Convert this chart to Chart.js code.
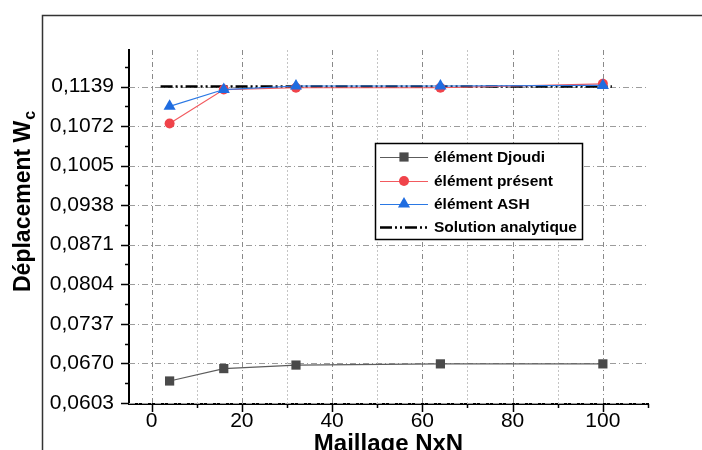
<!DOCTYPE html>
<html>
<head>
<meta charset="utf-8">
<script src="https://cdn.jsdelivr.net/npm/chart.js@4.4.0/dist/chart.umd.min.js"></script>
<style>
  html, body { margin: 0; padding: 0; background: #fff; }
  #wrap { width: 702px; height: 450px; position: relative; overflow: hidden; }
</style>
</head>
<body>
<div id="wrap"><canvas id="canvas-1" width="702" height="450"></canvas></div>
<script>
// mesh sizes NxN
var meshX = [4, 16, 32, 64, 100];
var djoudiW = [0.0640, 0.0661, 0.0667, 0.0669, 0.0669];
var presentW = [0.10765, 0.1134, 0.1137, 0.1137, 0.11436];
var ashW = [0.11055, 0.1134, 0.1140, 0.1140, 0.1141];
var analyticX = [2, 102];
var analyticW = [0.1139, 0.1139];

var seriesNames = ['élément Djoudi', 'élément présent', 'élément ASH', 'Solution analytique'];
var xTicks = [0, 20, 40, 60, 80, 100];
var xMinorTicks = [10, 30, 50, 70, 90, 110];
var yTicks = [0.0603, 0.0670, 0.0737, 0.0804, 0.0871, 0.0938, 0.1005, 0.1072, 0.1139];
var yMinorTicks = [0.06365, 0.07035, 0.07705, 0.08375, 0.09045, 0.09715, 0.10385, 0.11055, 0.11725];

var FONT = '"Liberation Sans", Arial, sans-serif';

function pts(xs, ys) {
  return xs.map(function (x, i) { return { x: x, y: ys[i] }; });
}

function marker(ctx, style, x, y, r, fill) {
  ctx.save();
  ctx.fillStyle = fill;
  ctx.beginPath();
  if (style === 'rect') {
    var s = Math.SQRT1_2 * r;
    ctx.rect(x - s, y - s, 2 * s, 2 * s);
  } else if (style === 'triangle') {
    var a = 0;
    ctx.moveTo(x + Math.sin(a) * r, y - Math.cos(a) * r);
    a += 2 * Math.PI / 3;
    ctx.lineTo(x + Math.sin(a) * r, y - Math.cos(a) * r);
    a += 2 * Math.PI / 3;
    ctx.lineTo(x + Math.sin(a) * r, y - Math.cos(a) * r);
    ctx.closePath();
  } else {
    ctx.arc(x, y, r, 0, Math.PI * 2);
  }
  ctx.fill();
  ctx.restore();
}

var decor = {
  id: 'decor',
  beforeDraw: function (chart) {
    var ctx = chart.ctx;
    ctx.save();
    ctx.strokeStyle = '#333';
    ctx.lineWidth = 1.5;
    ctx.strokeRect(42.5, 15.5, 900, 900);
    ctx.restore();
  },
  beforeDatasetsDraw: function (chart) {
    var ctx = chart.ctx, a = chart.chartArea;
    var xs = chart.scales.x, ys = chart.scales.y;
    ctx.save();
    ctx.lineWidth = 1;
    // horizontal grid
    ctx.strokeStyle = '#9c9c9c';
    ctx.setLineDash([6, 3, 1, 3]);
    yTicks.forEach(function (v) {
      var py = Math.round(ys.getPixelForValue(v)) + 0.5;
      ctx.beginPath(); ctx.moveTo(a.left, py); ctx.lineTo(a.right, py); ctx.stroke();
    });
    // vertical grid
    ctx.strokeStyle = '#8a8a8a';
    ctx.setLineDash([5, 3, 1, 3]);
    xTicks.forEach(function (v) {
      var px = Math.round(xs.getPixelForValue(v)) + 0.5;
      ctx.beginPath(); ctx.moveTo(px, a.top); ctx.lineTo(px, a.bottom); ctx.stroke();
    });
    ctx.strokeStyle = '#c4c4c4';
    ctx.setLineDash([2, 2]);
    xMinorTicks.forEach(function (v) {
      if (v > 100) return;
      var px = Math.round(xs.getPixelForValue(v)) + 0.5;
      ctx.beginPath(); ctx.moveTo(px, a.top); ctx.lineTo(px, a.bottom); ctx.stroke();
    });
    ctx.restore();
  },
  afterDraw: function (chart) {
    var ctx = chart.ctx, a = chart.chartArea;
    var xs = chart.scales.x, ys = chart.scales.y;
    ctx.save();
    // tick marks
    ctx.strokeStyle = '#000';
    ctx.lineWidth = 1.5;
    ctx.setLineDash([]);
    yTicks.forEach(function (v) {
      var py = Math.round(ys.getPixelForValue(v)) + 0.5;
      ctx.beginPath(); ctx.moveTo(a.left - 8, py); ctx.lineTo(a.left, py); ctx.stroke();
    });
    yMinorTicks.forEach(function (v) {
      var py = Math.round(ys.getPixelForValue(v)) + 0.5;
      ctx.beginPath(); ctx.moveTo(a.left - 4, py); ctx.lineTo(a.left, py); ctx.stroke();
    });
    xTicks.forEach(function (v) {
      var px = Math.round(xs.getPixelForValue(v)) + 0.5;
      ctx.beginPath(); ctx.moveTo(px, a.bottom); ctx.lineTo(px, a.bottom + 8); ctx.stroke();
    });
    xMinorTicks.forEach(function (v) {
      var px = Math.round(xs.getPixelForValue(v)) + 0.5;
      ctx.beginPath(); ctx.moveTo(px, a.bottom); ctx.lineTo(px, a.bottom + 4); ctx.stroke();
    });

    // axis titles
    ctx.fillStyle = '#000';
    ctx.font = 'bold 24px ' + FONT;
    ctx.textAlign = 'center';
    ctx.textBaseline = 'alphabetic';
    ctx.fillText('Maillage NxN', (a.left + a.right) / 2, 451);

    ctx.save();
    ctx.translate(30, 292);
    ctx.rotate(-Math.PI / 2);
    ctx.textAlign = 'left';
    ctx.font = 'bold 23px ' + FONT;
    ctx.fillText('Déplacement W', 0, 0);
    var w = ctx.measureText('Déplacement W').width;
    ctx.font = 'bold 16px ' + FONT;
    ctx.fillText('c', w + 1, 5);
    ctx.restore();

    // legend
    var lx = 375, ly = 143, lw = 207, lh = 96;
    ctx.fillStyle = '#fff';
    ctx.fillRect(lx, ly, lw, lh);
    ctx.strokeStyle = '#000';
    ctx.lineWidth = 1.5;
    ctx.strokeRect(lx + 0.5, ly + 0.5, lw, lh);
    ctx.font = 'bold 15.5px ' + FONT;
    ctx.textAlign = 'left';
    ctx.textBaseline = 'middle';
    var rows = [157, 181, 204, 227];
    chart.data.datasets.forEach(function (ds, i) {
      var y = rows[i];
      ctx.save();
      ctx.strokeStyle = ds.borderColor;
      ctx.lineWidth = ds.borderWidth;
      ctx.setLineDash(ds.borderDash || []);
      ctx.beginPath(); ctx.moveTo(380, y + 0.5); ctx.lineTo(428, y + 0.5); ctx.stroke();
      ctx.restore();
      if (ds.pointRadius > 0) marker(ctx, ds.pointStyle, 404, y, ds.pointRadius, ds.backgroundColor);
      ctx.fillStyle = '#000';
      ctx.fillText(ds.label, 434, y + 1);
    });
    ctx.restore();
  }
};

var ctx = document.getElementById('canvas-1');
var chart = new Chart(ctx, {
  type: 'line',
  data: {
    datasets: [
      {
        label: seriesNames[0],
        data: pts(meshX, djoudiW),
        borderColor: '#5c5c5c',
        backgroundColor: '#4a4a4a',
        borderWidth: 1.2,
        pointStyle: 'rect',
        pointRadius: 6.5,
        pointBorderWidth: 0,
        order: 3
      },
      {
        label: seriesNames[1],
        data: pts(meshX, presentW),
        borderColor: '#f25a5f',
        backgroundColor: '#f0434a',
        borderWidth: 1.2,
        pointStyle: 'circle',
        pointRadius: 5,
        pointBorderWidth: 0,
        order: 2
      },
      {
        label: seriesNames[2],
        data: pts(meshX, ashW),
        borderColor: '#2a78e4',
        backgroundColor: '#1f6ce0',
        borderWidth: 1.2,
        pointStyle: 'triangle',
        pointRadius: 7,
        pointBorderWidth: 0,
        order: 1
      },
      {
        label: seriesNames[3],
        data: pts(analyticX, analyticW),
        borderColor: '#000',
        backgroundColor: '#000',
        borderWidth: 2.5,
        borderDash: [12, 3, 2, 3, 2, 3],
        pointRadius: 0,
        order: 4
      }
    ]
  },
  options: {
    responsive: false,
    animation: false,
    layout: { padding: { left: 0, right: 54, top: 50, bottom: 0 } },
    plugins: { legend: { display: false }, tooltip: { enabled: false } },
    scales: {
      x: {
        type: 'linear',
        min: -5,
        max: 110,
        afterBuildTicks: function (scale) {
          scale.ticks = xTicks.map(function (v) { return { value: v }; });
        },
        afterFit: function (scale) { scale.height = 46; },
        grid: { display: true, drawOnChartArea: false, drawTicks: true, tickLength: 8, color: 'rgba(0,0,0,0)' },
        border: { display: true, color: '#000', width: 2 },
        ticks: {
          color: '#000',
          padding: -3,
          maxRotation: 0,
          font: { family: FONT, size: 21 }
        }
      },
      y: {
        type: 'linear',
        min: 0.0601,
        max: 0.1201,
        afterBuildTicks: function (scale) {
          scale.ticks = yTicks.map(function (v) { return { value: v }; });
        },
        afterFit: function (scale) { scale.width = 129; },
        grid: { display: true, drawOnChartArea: false, drawTicks: true, tickLength: 8, color: 'rgba(0,0,0,0)' },
        border: { display: true, color: '#000', width: 2 },
        ticks: {
          color: '#000',
          padding: 7,
          font: { family: FONT, size: 21 },
          callback: function (v) { return v.toFixed(4).replace('.', ','); }
        }
      }
    }
  },
  plugins: [decor]
});
</script>
</body>
</html>
